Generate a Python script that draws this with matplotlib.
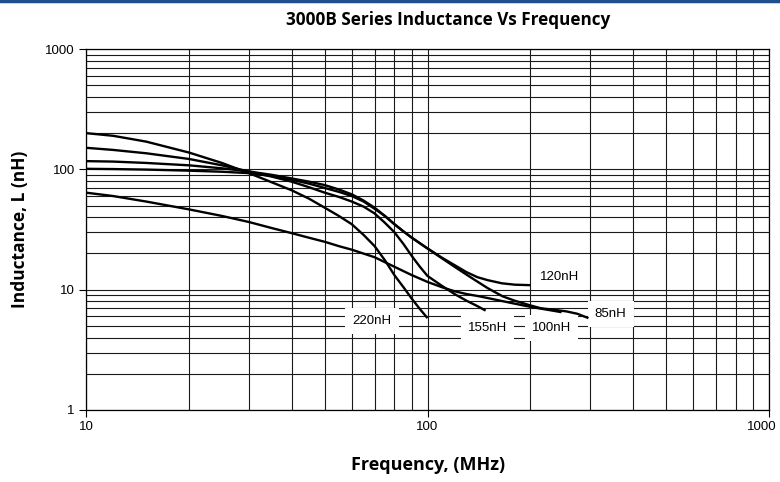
import matplotlib
matplotlib.use('Agg')
import matplotlib.pyplot as plt
import matplotlib.transforms as mtransforms
from matplotlib.ticker import FixedLocator, NullFormatter

# ------------------- data -------------------
f_220 = [10, 12, 15, 20, 25, 30, 35, 40, 45, 50, 55, 60, 65, 70, 75, 80, 85, 90, 95, 100]
L_220 = [200, 190, 170, 138, 113, 93, 78, 67, 57, 48, 41, 35, 28.5, 23, 17.6, 13.2, 10.5, 8.4, 6.9, 5.8]

f_155 = [10, 12, 15, 20, 25, 30, 35, 40, 45, 50, 55, 60, 65, 70, 75, 80, 85, 90, 95, 100,
         110, 120, 130, 140, 148]
L_155 = [151, 145, 136, 122, 108, 96, 87, 79, 71, 64, 59, 54, 49, 43, 36, 30, 24, 19, 15.5, 13,
         10.8, 9.2, 8.1, 7.3, 6.7]

f_120 = [10, 12, 15, 20, 25, 30, 35, 40, 45, 50, 55, 60, 65, 70, 75, 80, 85, 90, 100,
         110, 120, 130, 140, 150, 165, 180, 200]
L_120 = [117, 116, 113, 108, 102, 96, 90, 84, 79, 74, 68, 62, 55, 48, 41, 35, 30.5, 27, 22,
         18.5, 16, 14, 12.7, 12, 11.3, 11.0, 10.9]

f_85 = [10, 12, 15, 20, 25, 30, 35, 40, 45, 50, 55, 60, 65, 70, 75, 80, 85, 90, 100,
        110, 120, 133, 150, 166, 180, 200, 215, 235, 255, 275, 296]
L_85 = [101, 100.5, 99.5, 97.5, 95.5, 93, 88, 82, 76, 70, 65, 60, 54, 47, 41, 35, 30.5, 27, 22,
        18.3, 15.5, 12.8, 10.3, 8.8, 8.1, 7.4, 7.0, 6.8, 6.6, 6.3, 5.8]

f_100 = [10, 12, 15, 20, 25, 30, 35, 40, 45, 50, 55, 60, 70, 80, 90, 100, 110, 120, 130, 142,
         160, 178, 200, 225, 247]
L_100 = [64, 60, 54, 46.5, 41, 36.5, 32.5, 29.5, 27, 25, 23, 21.5, 18.6, 15.5, 13.2, 11.6, 10.5,
         9.7, 9.2, 8.8, 8.2, 7.7, 7.2, 6.8, 6.5]

curves = [(f_220, L_220), (f_155, L_155), (f_120, L_120), (f_85, L_85), (f_100, L_100)]

label_text = ['220nH', '155nH', '100nH', '120nH', '85nH']
label_f = [68.8, 150, 231, 243, 344]
label_L = [5.5, 4.8, 4.8, 12.75, 6.28]

x_ticks = [10, 100, 1000]
y_ticks = [1, 10, 100, 1000]

# ------------------- figure -------------------
fig = plt.figure(figsize=(7.8, 4.82), dpi=100)
ax = fig.add_axes([86 / 780, 1 - 410 / 482, 683 / 780, 361 / 482])

# blue rule across the top of the page
fig.add_artist(plt.Line2D([0, 1], [0.997, 0.997], transform=fig.transFigure,
                          color='#1f4f8f', lw=2.5))

for f, L in curves:
    ax.plot(f, L, color='black', lw=1.7, zorder=3, solid_capstyle='butt')

ax.set_xscale('log')
ax.set_yscale('log')
ax.set_xlim(10, 1000)
ax.set_ylim(1, 1000)

ax.xaxis.set_major_locator(FixedLocator(x_ticks))
ax.yaxis.set_major_locator(FixedLocator(y_ticks))
ax.set_xticklabels([str(v) for v in x_ticks])
ax.set_yticklabels([str(v) for v in y_ticks])
ax.xaxis.set_minor_formatter(NullFormatter())
ax.yaxis.set_minor_formatter(NullFormatter())

ax.grid(which='both', color='#1a1a1a', lw=0.8)
ax.set_axisbelow(True)
ax.tick_params(which='major', length=5, width=0.8, direction='out', pad=3,
               labelsize=9.5, labelfontfamily='Liberation Sans')
ax.tick_params(which='minor', length=0)
for sp in ax.spines.values():
    sp.set_linewidth(0.9)

# keep the right-most x label inside the picture
last = ax.get_xticklabels()[-1]
last.set_transform(last.get_transform() + mtransforms.ScaledTranslation(-7 / 100, 0, fig.dpi_scale_trans))

for txt, f, L in zip(label_text, label_f, label_L):
    ax.text(f, L, txt, ha='center', va='center', fontsize=9.5, family='Liberation Sans',
            zorder=2.5, bbox=dict(facecolor='white', edgecolor='none', pad=5))

fig.text(448 / 780, 1 - 20 / 482, '3000B Series Inductance Vs Frequency', ha='center', va='center',
         fontsize=12.3, fontweight='bold', family='Open Sans')
fig.text(428 / 780, 1 - 465 / 482, 'Frequency, (MHz)', ha='center', va='center',
         fontsize=13, fontweight='bold', family='Open Sans')
fig.text(20 / 780, 1 - 229 / 482, 'Inductance, L (nH)', ha='center', va='center', rotation=90,
         fontsize=12.5, fontweight='bold', family='Open Sans')

fig.savefig('out.png', dpi=100)
